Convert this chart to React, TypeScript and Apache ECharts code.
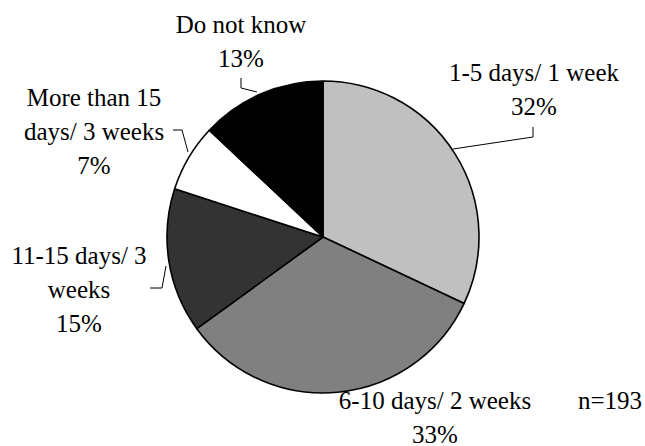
import React, { useEffect, useRef } from "react";
import * as echarts from "echarts";

const categories = [
  "1-5 days/ 1 week",
  "6-10 days/ 2 weeks",
  "11-15 days/ 3\nweeks",
  "More than 15\ndays/ 3 weeks",
  "Do not know",
];
const percentages = [32, 33, 15, 7, 13];
const sliceColors = ["#c0c0c0", "#808080", "#333333", "#ffffff", "#000000"];
const sampleNote = "n=193";

// label block centres and leader lines (layout only)
const labelPos: { x: number; y: number; line?: number[][] }[] = [
  { x: 534, y: 89, line: [[453, 149], [533, 137], [533, 127]] },
  { x: 435, y: 417 },
  { x: 79, y: 289, line: [[166, 266], [162, 288], [150, 288]] },
  { x: 94, y: 131, line: [[188, 152], [182, 130], [173, 130]] },
  { x: 241, y: 41, line: [[257, 92], [241, 88], [241, 78]] },
];

const FONT = "Times New Roman";

export default function App() {
  const ref = useRef<HTMLDivElement>(null);
  useEffect(() => {
    document.body.style.margin = "0";
    const chart = echarts.init(ref.current!, null, { renderer: "svg" });
    chart.setOption({
      animation: false,
      textStyle: { fontFamily: FONT },
      graphic: [
        {
          type: "text",
          x: 578,
          y: 388,
          style: {
            text: sampleNote,
            fontFamily: FONT,
            fontSize: 25,
            fill: "#000",
          },
        },
      ],
      series: [
        {
          type: "pie",
          center: [323, 237],
          radius: 156,
          avoidLabelOverlap: false,
          itemStyle: { borderColor: "#000", borderWidth: 1.6 },
          data: categories.map((name, i) => ({
            name,
            value: percentages[i],
            itemStyle: { color: sliceColors[i] },
            labelLine: { show: !!labelPos[i].line },
          })),
          label: {
            formatter: "{b}\n{c}%",
            fontFamily: FONT,
            fontSize: 25,
            lineHeight: 34,
            color: "#000",
          },
          labelLine: {
            lineStyle: { color: "#000", width: 1 },
          },
          labelLayout: (params: any) => {
            const p = labelPos[params.dataIndex];
            const res: any = {
              x: p.x,
              y: p.y,
              align: "center",
              verticalAlign: "middle",
            };
            if (p.line) res.labelLinePoints = p.line;
            return res;
          },
        },
      ],
    });
    return () => chart.dispose();
  }, []);
  return <div ref={ref} style={{ width: 645, height: 446 }} />;
}
